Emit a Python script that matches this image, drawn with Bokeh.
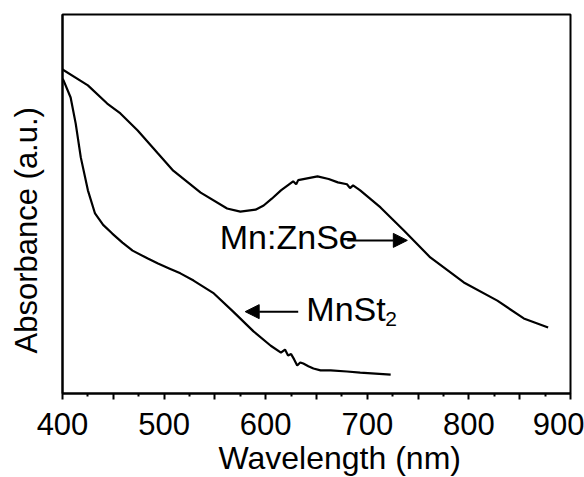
from bokeh.plotting import figure
from bokeh.models import Arrow, NormalHead, Label, FixedTicker, Range1d, Title
from bokeh.embed import file_html
from bokeh.resources import INLINE

# ---- data ----
mnznse_nm = [400, 425, 444, 457, 474, 494, 509, 536, 562, 575, 590, 598, 606, 615, 627,
             630, 632, 651, 662, 671, 680, 683, 686, 693, 713, 736, 762, 795, 828, 854, 878]
mnznse_abs = [0.855, 0.813, 0.765, 0.739, 0.694, 0.633, 0.588, 0.530, 0.488, 0.480, 0.485,
              0.496, 0.514, 0.536, 0.560, 0.552, 0.563, 0.573, 0.566, 0.557, 0.552, 0.542,
              0.549, 0.536, 0.491, 0.430, 0.359, 0.293, 0.245, 0.198, 0.174]

mnst2_nm = [400, 401, 408, 413, 418, 425, 432, 440, 449, 459, 469, 484, 494, 505, 516, 529,
            549, 568, 588, 605, 615, 619, 622, 625, 628, 631, 634, 637, 642, 647, 654, 664,
            680, 693, 723]
mnst2_abs = [0.830, 0.826, 0.781, 0.712, 0.623, 0.536, 0.475, 0.445, 0.422, 0.398, 0.377,
             0.356, 0.343, 0.330, 0.317, 0.298, 0.264, 0.216, 0.164, 0.126, 0.108, 0.116,
             0.100, 0.104, 0.090, 0.074, 0.082, 0.079, 0.072, 0.066, 0.061, 0.061, 0.058,
             0.055, 0.050]

x_major_ticks = [400, 450, 500, 550, 600, 650, 700, 750, 800, 850, 900]
x_minor_ticks = [425, 475, 525, 575, 625, 675, 725, 775, 825, 875]
x_tick_labels = {400: "400", 450: "", 500: "500", 550: "", 600: "600", 650: "",
                 700: "700", 750: "", 800: "800", 850: "", 900: "900"}

FONT = "Liberation Sans"

p = figure(width=584, height=477, output_backend="svg", toolbar_location=None,
           x_range=Range1d(400, 900), y_range=Range1d(0, 1),
           min_border_left=62, min_border_right=14, min_border_top=14, min_border_bottom=84)
p.title.visible = False
p.grid.visible = False
p.background_fill_color = "white"
p.border_fill_color = "white"
p.outline_line_color = "black"
p.outline_line_width = 2

# x axis
xa = p.xaxis[0]
xa.ticker = FixedTicker(ticks=x_major_ticks, minor_ticks=x_minor_ticks)
xa.major_label_overrides = x_tick_labels
xa.major_label_text_font = FONT
xa.major_label_text_font_size = "31px"
xa.major_label_text_color = "black"
xa.major_label_standoff = 13
xa.axis_line_width = 2
xa.axis_line_color = "black"
xa.major_tick_line_width = 2
xa.minor_tick_line_width = 2
xa.major_tick_in = 0
xa.major_tick_out = 6
xa.minor_tick_in = 0
xa.minor_tick_out = 3

# y axis (no labels, no visible ticks; tick extent used as spacing for the title)
ya = p.yaxis[0]
ya.ticker = FixedTicker(ticks=[0], minor_ticks=[])
ya.major_label_text_font_size = "0px"
ya.major_label_text_color = None
ya.major_label_standoff = 0
ya.axis_line_width = 2
ya.axis_line_color = "black"
ya.major_tick_line_color = None
ya.major_tick_in = 0
ya.major_tick_out = 19

# axis titles as titles so they can be offset like the reference
p.add_layout(Title(text="Wavelength (nm)", align="left", offset=156, standoff=0,
                   vertical_align="bottom", text_font=FONT, text_font_size="32px",
                   text_font_style="normal", text_color="black"), "below")
p.add_layout(Title(text="Absorbance (a.u.)", align="left", offset=40, standoff=0,
                   vertical_align="bottom", text_font=FONT, text_font_size="31px",
                   text_font_style="normal", text_color="black"), "left")

# curves
p.line(mnznse_nm, mnznse_abs, line_color="black", line_width=2.2)
p.line(mnst2_nm, mnst2_abs, line_color="black", line_width=2.2)

def lab(**kw):
    base = dict(text_font=FONT, text_color="black", text_baseline="alphabetic")
    base.update(kw)
    p.add_layout(Label(**base))

# annotations
lab(x=554.8, y=0.414, text="Mn:ZnSe", text_align="left", text_font_size="34px")
lab(x=640.0, y=0.222, text="MnSt", text_align="left", text_font_size="34px")
lab(x=640.0, y=0.222, text="2", text_align="left", text_font_size="21px",
    x_offset=79, y_offset=-10)

p.add_layout(Arrow(end=NormalHead(size=14, fill_color="black", line_color="black"),
                   x_start=680.3, y_start=0.404, x_end=739.4, y_end=0.404,
                   line_width=2, line_color="black"))
p.add_layout(Arrow(end=NormalHead(size=14, fill_color="black", line_color="black"),
                   x_start=632.0, y_start=0.216, x_end=579.8, y_end=0.216,
                   line_width=2, line_color="black"))

open("out.html", "w").write(file_html(p, INLINE))
